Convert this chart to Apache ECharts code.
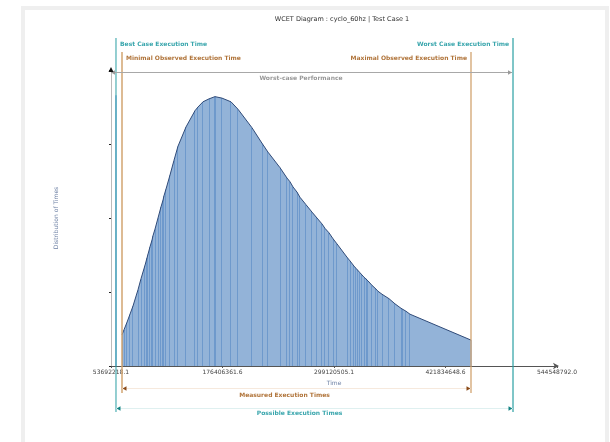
<!DOCTYPE html>
<html><head><meta charset="utf-8">
<script src="https://cdn.jsdelivr.net/npm/echarts@6/dist/echarts.min.js"></script>
<style>
html,body{margin:0;padding:0;background:#fff;width:610px;height:442px;overflow:hidden;}
#panel{position:absolute;left:21px;top:6px;width:580px;height:440px;border:4px solid #efefef;background:#fff;}
#chart{position:absolute;left:0;top:0;width:610px;height:442px;}
</style></head>
<body>
<div id="panel"></div>
<div id="chart"></div>
<script>
// ---- data ----
const titleText = 'WCET Diagram : cyclo_60hz | Test Case 1';
const xTickValues = [53692218.1, 176406361.6, 299120505.1, 421834648.6, 544548792.0];
const xTickLabels = ['53692218.1', '176406361.6', '299120505.1', '421834648.6', '544548792.0'];
const timeValues = [
  65800000, 68000000, 71300000, 74600000, 77900000, 83410000, 86710000, 91110000, 93310000, 94410000,
  96610000, 98810000, 99910000, 102120000, 105420000, 108720000, 110920000, 112020000, 114220000, 118620000,
  123030000, 127430000, 136230000, 146140000, 149440000, 154940000, 161550000, 168150000, 169250000, 175850000,
  185760000, 193460000, 208870000, 219880000, 226480000, 239690000, 247390000, 250690000, 253990000, 258400000,
  261700000, 268300000, 274900000, 280410000, 285910000, 289210000, 293610000, 298020000, 302420000, 313430000,
  316730000, 321130000, 323330000, 325530000, 327730000, 329930000, 332140000, 334340000, 336540000, 340940000,
  345340000, 347540000, 351950000, 359650000, 366250000, 372860000, 375060000, 378360000, 382760000, 449900000
];
const distValues = [
  0.42, 0.49, 0.59, 0.70, 0.81, 1.03, 1.18, 1.36, 1.46, 1.51,
  1.61, 1.70, 1.76, 1.85, 2.00, 2.15, 2.24, 2.30, 2.39, 2.58,
  2.78, 2.97, 3.23, 3.45, 3.50, 3.57, 3.61, 3.64, 3.64, 3.62,
  3.57, 3.47, 3.22, 3.01, 2.89, 2.68, 2.54, 2.49, 2.42, 2.35,
  2.28, 2.18, 2.08, 2.00, 1.92, 1.86, 1.80, 1.72, 1.65, 1.47,
  1.42, 1.35, 1.32, 1.30, 1.26, 1.23, 1.20, 1.18, 1.15, 1.09,
  1.04, 1.01, 0.97, 0.91, 0.84, 0.78, 0.77, 0.74, 0.70, 0.35
];
const bestCase = 59190000;
const minObserved = 65800000;
const maxObserved = 449900000;
const worstCase = 496130000;
const bestCaseBarHeight = 3.66;
const yMax = 4;

const FONT = 'DejaVu Sans';
const teal = '#2a9fa3', tealText = '#3aa6ad', orangeLine = '#d2a470', brownText = '#b0743a';
const pairs = timeValues.map((t, i) => [t, distValues[i]]);
const snap = v => Math.round(v - 0.5) + 0.5;

const chart = echarts.init(document.getElementById('chart'), null, {renderer: 'canvas'});
chart.setOption({
  animation: false,
  backgroundColor: 'transparent',
  grid: {left: 111, right: 53, top: 70, bottom: 76},
  xAxis: {
    type: 'value', min: xTickValues[0], max: xTickValues[xTickValues.length - 1],
    name: 'Time', nameLocation: 'middle', nameGap: 14,
    nameTextStyle: {fontFamily: FONT, fontSize: 6, color: '#6b7fa3'},
    axisLine: {show: true, lineStyle: {color: '#555', width: 1}, symbol: ['none', 'arrow'], symbolSize: [5, 6], symbolOffset: [0, 2]},
    axisTick: {show: true, length: 2, lineStyle: {color: '#555'}, customValues: xTickValues},
    axisLabel: {customValues: xTickValues, margin: 3, fontFamily: FONT, fontSize: 6, color: '#444',
      formatter: v => { const i = xTickValues.indexOf(v); return i >= 0 ? xTickLabels[i] : ''; }},
    splitLine: {show: false}
  },
  yAxis: {
    type: 'value', min: 0, max: yMax, interval: 1,
    name: 'Distribution of Times', nameLocation: 'middle', nameGap: 52, nameRotate: 90,
    nameTextStyle: {fontFamily: FONT, fontSize: 6, color: '#6b7fa3'},
    axisLine: {show: true, lineStyle: {color: '#bbb', width: 1}},
    axisTick: {show: true, length: 2, lineStyle: {color: '#222'}},
    axisLabel: {show: false},
    splitLine: {show: false}
  },
  series: [
    {
      type: 'line', data: pairs, symbol: 'none', z: 2,
      lineStyle: {width: 0},
      areaStyle: {color: '#93b3d8', opacity: 1},
      markLine: {
        silent: true, symbol: ['none', 'none'], label: {show: false},
        lineStyle: {color: '#8cb0e2', width: 1.5, type: 'solid'},
        data: [[{coord: [bestCase, 0]}, {coord: [bestCase, bestCaseBarHeight]}]]
      }
    },
    {
      type: 'custom', z: 3, data: pairs,
      renderItem: (params, api) => {
        const p0 = api.coord([api.value(0), 0]);
        const p1 = api.coord([api.value(0), api.value(1)]);
        const x = snap(p0[0]);
        return {type: 'line', shape: {x1: x, y1: p0[1], x2: x, y2: p1[1]},
          style: {stroke: '#4a80c0', lineWidth: 1, opacity: 0.5}};
      }
    },
    {
      type: 'line', data: pairs, symbol: 'none', z: 4,
      lineStyle: {color: '#2f4a78', width: 1}
    }
  ]
});

function addGraphics() {
  const X = v => chart.convertToPixel({xAxisIndex: 0}, v);
  const Y = v => chart.convertToPixel({yAxisIndex: 0}, v);
  const xb = X(bestCase), xmin = X(minObserved), xmax = X(maxObserved), xw = X(worstCase), x0 = X(xTickValues[0]);
  const yTop = Y(yMax);
  const g = [];
  const vline = (x, y1, y2, c, w) => g.push({type: 'line', shape: {x1: x, y1: y1, x2: x, y2: y2}, style: {stroke: c, lineWidth: w}, z: 10});
  const hline = (x1, x2, y, c, w) => g.push({type: 'line', shape: {x1: x1, y1: y, x2: x2, y2: y}, style: {stroke: c, lineWidth: w}, z: 10});
  const txt = (s, x, y, c, align, fs, weight) => g.push({type: 'text', x: x, y: y, z: 11,
    style: {text: s, fill: c, font: (weight || 'normal') + ' ' + (fs || 6) + 'px "' + FONT + '"', textAlign: align, textVerticalAlign: 'middle'}});
  const head = (x, y, dir, c) => g.push({type: 'polygon', z: 12,
    shape: {points: [[x, y], [x - dir * 4, y - 2.2], [x - dir * 4, y + 2.2]]}, style: {fill: c}});

  txt(titleText, 342, 19, '#333', 'center', 6.5);

  vline(xb, 38, 412, teal, 1);
  vline(xw, 38, 412, teal, 1.2);
  vline(xmin, 52, 393, orangeLine, 1.5);
  vline(xmax, 52, 393, orangeLine, 1.3);

  txt('Best Case Execution Time', xb + 4, 44, tealText, 'left', 6, 'bold');
  txt('Worst Case Execution Time', xw - 4, 44, tealText, 'right', 6, 'bold');
  txt('Minimal Observed Execution Time', xmin + 4, 58, brownText, 'left', 6, 'bold');
  txt('Maximal Observed Execution Time', xmax - 4, 58, brownText, 'right', 6, 'bold');

  // worst-case performance arrow
  hline(x0, xw - 1, 72.5, '#a8a8a8', 1);
  head(x0, 72.5, -1, '#999');
  head(xw - 1, 72.5, 1, '#999');
  txt('Worst-case Performance', (x0 + xw) / 2 - 11, 78, '#999', 'center', 6, 'bold');

  // measured
  hline(xmin, xmax, 388.5, '#f6e9dd', 1);
  head(xmin + 0.5, 388.5, -1, '#8a4a18');
  head(xmax - 0.5, 388.5, 1, '#8a4a18');
  txt('Measured Execution Times', (xmin + xmax) / 2 - 12, 395, brownText, 'center', 6, 'bold');

  // possible
  hline(xb, xw, 408.5, '#dff0f0', 1);
  head(xb + 0.5, 408.5, -1, '#138383');
  head(xw - 0.5, 408.5, 1, '#138383');
  txt('Possible Execution Times', (xb + xw) / 2 - 15, 413, tealText, 'center', 6, 'bold');

  // y axis top arrow
  g.push({type: 'polygon', z: 12, shape: {points: [[x0, yTop - 3], [x0 - 2.5, yTop + 2], [x0 + 2.5, yTop + 2]]}, style: {fill: '#111'}});

  chart.setOption({graphic: g});
}
addGraphics();
</script>
</body></html>
